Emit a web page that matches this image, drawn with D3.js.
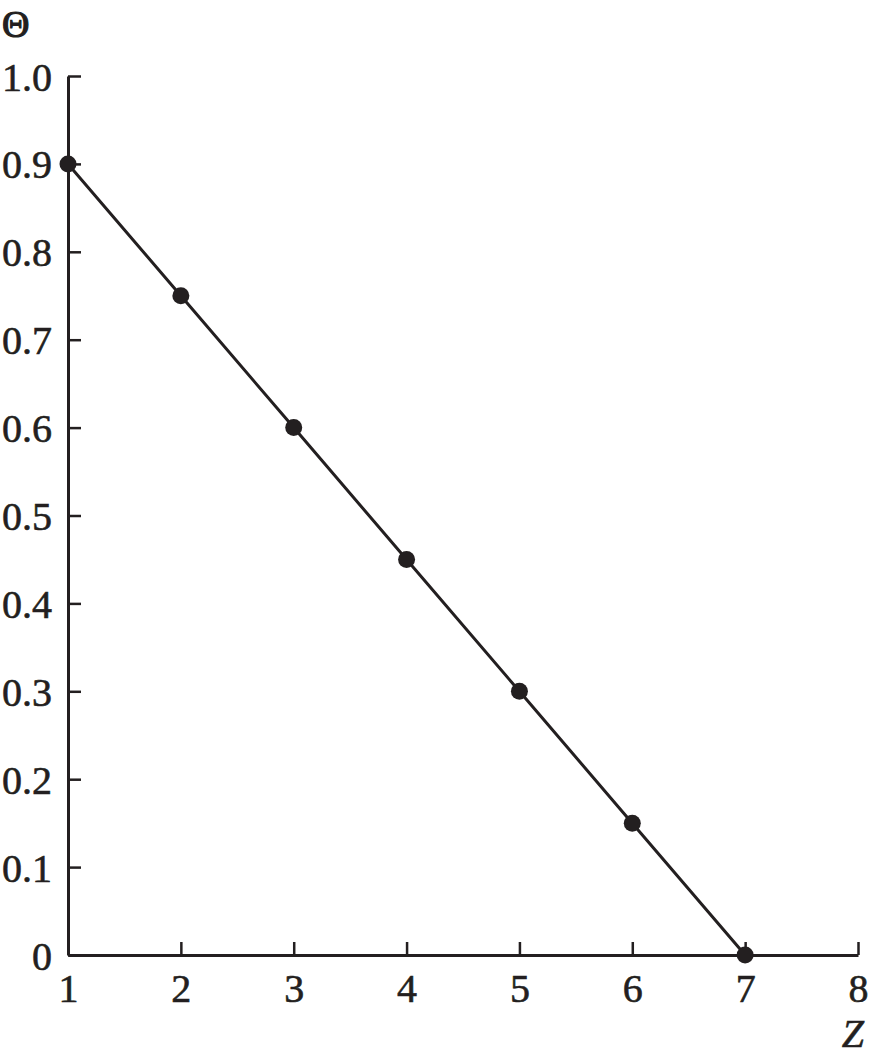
<!DOCTYPE html>
<html><head><meta charset="utf-8">
<script src="https://cdn.jsdelivr.net/npm/d3@7"></script>
<style>body{margin:0;background:#fff}</style>
</head><body>
<svg id="c" width="869" height="1061"></svg>
<script>
const zValues = [1, 2, 3, 4, 5, 6, 7];
const thetaValues = [0.9, 0.75, 0.6, 0.45, 0.3, 0.15, 0];
const xTicks = [1, 2, 3, 4, 5, 6, 7, 8];
const yTicks = [0, 0.1, 0.2, 0.3, 0.4, 0.5, 0.6, 0.7, 0.8, 0.9, 1.0];

const col = "#231f20";
const font = "'Liberation Serif','Times New Roman',serif";
const svg = d3.select("#c");
const x = d3.scaleLinear().domain([1, 8]).range([68, 858]);
const y = d3.scaleLinear().domain([0, 1]).range([955, 76]);

const xAxis = d3.axisBottom(x).tickValues(xTicks).tickSizeInner(-13).tickSizeOuter(0).tickPadding(19).tickFormat(d3.format("d"));
const gx = svg.append("g").attr("transform", `translate(0,${y(0)})`).call(xAxis);
const yAxis = d3.axisLeft(y).tickValues(yTicks).tickSizeInner(-13).tickSizeOuter(0).tickPadding(16)
  .tickFormat(d => d === 0 ? "0" : d3.format(".1f")(d));
const gy = svg.append("g").attr("transform", `translate(${x(1)},0)`).call(yAxis);

[gx, gy].forEach(g => {
  g.select(".domain").attr("stroke", col).attr("stroke-width", 3);
  g.selectAll(".tick line").attr("stroke", col).attr("stroke-width", 2.5);
  g.selectAll(".tick text").attr("fill", col).attr("font-family", font).attr("font-size", 40)
    .attr("stroke", col).attr("stroke-width", 0.6);
});
gy.selectAll(".tick text").attr("dy", "0.35em");
gx.selectAll(".tick text").attr("dy", "0.71em");

const pts = zValues.map((z, i) => [z, thetaValues[i]]);
svg.append("path").datum(pts)
  .attr("fill", "none").attr("stroke", col).attr("stroke-width", 3)
  .attr("d", d3.line().x(d => x(d[0])).y(d => y(d[1])));
svg.selectAll("circle.pt").data(pts).enter().append("circle")
  .attr("class", "pt").attr("cx", d => x(d[0])).attr("cy", d => y(d[1])).attr("r", 8.5).attr("fill", col);

svg.append("text").attr("x", 2).attr("y", 37).attr("font-family", font).attr("font-size", 38)
  .attr("fill", col).attr("stroke", col).attr("stroke-width", 1.2).text("Θ");
svg.append("text").attr("x", 864).attr("y", 1047).attr("text-anchor", "end").attr("font-family", font)
  .attr("font-style", "italic").attr("font-size", 40).attr("fill", col).attr("stroke", col).attr("stroke-width", 0.6).text("Z");
</script>
</body></html>
